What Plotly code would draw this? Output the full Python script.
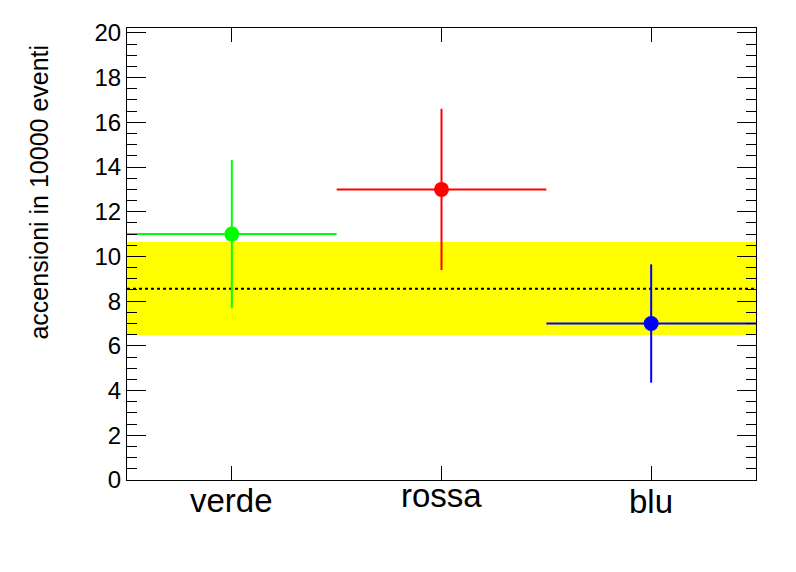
import plotly.graph_objects as go

categories = ["verde", "rossa", "blu"]
centers = [0.5, 1.5, 2.5]
values = [11, 13, 7]
errors = [3.317, 3.606, 2.646]
half_width = [0.5, 0.5, 0.5]
colors = ["#00ff00", "#ff0000", "#0000ff"]
mean_value = 8.56
band_low = 6.49
band_high = 10.65
x_min, x_max = 0, 3
y_min, y_max = 0, 20.22

fig = go.Figure()

fig.add_trace(go.Scatter(
    x=[x_min, x_max, x_max, x_min], y=[band_low, band_low, band_high, band_high],
    fill="toself", fillcolor="#ffff00", line=dict(width=0), mode="lines",
    hoverinfo="skip", showlegend=False))

fig.add_trace(go.Scatter(
    x=[x_min, x_max], y=[mean_value, mean_value], mode="lines",
    line=dict(color="black", width=2, dash="3px,3px"), showlegend=False))

for c, v, e, w, col in zip(centers, values, errors, half_width, colors):
    fig.add_trace(go.Scatter(
        x=[c], y=[v], mode="markers",
        marker=dict(color=col, size=15, line=dict(width=0)),
        error_y=dict(type="data", array=[e], color=col, thickness=2, width=0),
        error_x=dict(type="data", array=[w], color=col, thickness=2, width=0),
        showlegend=False))

label_shift = {"verde": -0.046, "rossa": -0.034, "blu": -0.047}
for c, name in zip(centers, categories):
    fig.add_annotation(x=c, xref="x", y=label_shift[name], yref="paper",
                       text=name, showarrow=False, xanchor="center", yanchor="middle",
                       font=dict(size=33, color="black", family="Liberation Sans, Arial"))

fig.add_annotation(x=-0.1399, xref="paper", y=0.636, yref="paper",
                   text="accensioni in 10000 eventi", textangle=-90, showarrow=False,
                   xanchor="center", yanchor="middle",
                   font=dict(size=25, color="black", family="Liberation Sans, Arial"))

fig.update_xaxes(range=[x_min, x_max], tickvals=centers, showticklabels=False,
                 ticks="inside", ticklen=14, tickcolor="black", tickwidth=1,
                 showline=True, linecolor="black", linewidth=1, mirror="ticks",
                 showgrid=False, zeroline=False)
fig.update_yaxes(range=[y_min, y_max], dtick=2, tick0=0, ticks="inside", ticklen=19,
                 tickcolor="black", tickwidth=1, showline=True, linecolor="black",
                 linewidth=1, mirror="ticks", showgrid=False, zeroline=False,
                 tickfont=dict(size=24, color="black", family="Liberation Sans, Arial"),
                 minor=dict(dtick=0.5, ticks="inside", ticklen=10, tickcolor="black",
                            tickwidth=1, showgrid=False))

fig.update_layout(width=796, height=572, margin=dict(l=119, r=48, t=20, b=100),
                  plot_bgcolor="white", paper_bgcolor="white", showlegend=False)

fig.write_html("out.html")
